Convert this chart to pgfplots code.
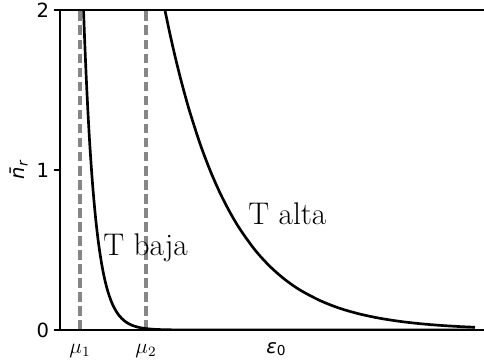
\documentclass[border=0pt]{standalone}
\usepackage{fontspec}
\usepackage{pgfplots}
\pgfplotsset{compat=1.18}
\usetikzlibrary{calc}
\newfontfamily\djv{DejaVu Sans}

% occupation number for a low and a high temperature
\pgfplotstableread{
e n
22.5 2.187
23 2.094
24 1.920
25 1.760
26 1.613
27 1.479
28 1.356
29 1.243
30 1.139
32 0.957
34 0.805
36 0.676
38 0.568
40 0.478
42 0.401
44 0.337
46 0.283
48 0.238
51 0.183
54 0.141
57 0.109
60 0.0839
64 0.0593
68 0.0418
72 0.0295
77 0.0191
82 0.0124
88 0.0074
95 0.0040
105 0.0017
120 0.00045
140 0.00008
170 0.000006
415 0
}\tbaja

\pgfplotstableread{
e n
103 2.059
105 1.997
110 1.849
115 1.712
120 1.585
125 1.468
130 1.359
140 1.165
150 0.999
160 0.857
170 0.735
180 0.630
195 0.500
210 0.397
225 0.315
240 0.250
260 0.184
280 0.135
300 0.0994
320 0.0731
340 0.0537
360 0.0395
380 0.0290
400 0.0213
415 0.0170
}\talta

\begin{document}
\begin{tikzpicture}
\begin{axis}[
  scale only axis,
  width=238.5pt, height=180pt,
  xmin=0, xmax=424, ymin=0, ymax=2,
  axis x line*=box, axis y line*=left,
  x axis line style={line width=0.9pt, -},
  y axis line style={line width=0.9pt, -},
  axis on top,
  clip mode=individual,
  xtick={20,86,216},
  xticklabels={{\fontsize{12}{14}\selectfont$\mu_1$}, {\fontsize{12}{14}\selectfont$\mu_2$},
    {\djv\fontsize{11}{13}\selectfont\itshape ε\upshape\raisebox{-1.4pt}{\fontsize{7.7}{8}\selectfont 0}}},
  xtick style={draw=none},
  xticklabel style={anchor=base, inner sep=0pt, yshift=-9.5pt},
  ytick={0,1,2},
  yticklabels={0,1,2},
  yticklabel style={font=\djv\fontsize{11}{13}\selectfont, inner sep=0pt, anchor=east, xshift=-2.5pt},
  ytick style={line width=0.9pt, black},
  tick align=outside,
  major tick length=3.5pt,
]
\addplot[gray!95, line width=1.7pt, dash pattern=on 5.4pt off 2.5pt] coordinates {(20,0) (20,2)};
\addplot[gray!95, line width=1.7pt, dash pattern=on 5.4pt off 2.5pt] coordinates {(86,0) (86,2)};
\addplot[black, line width=1.5pt, smooth] table[x=e, y=n] {\tbaja};
\addplot[black, line width=1.5pt, smooth] table[x=e, y=n] {\talta};
\node[anchor=base west, inner sep=0pt, font=\fontsize{17.6}{21}\selectfont] at (axis cs:43,0.4625) {T baja};
\node[anchor=base west, inner sep=0pt, font=\fontsize{17.6}{21}\selectfont] at (axis cs:188,0.66) {T alta};
\node[rotate=90, anchor=south, inner sep=0pt, font=\djv\fontsize{11}{13}\selectfont] at ($(rel axis cs:0,0.5)+(-18pt,0)$)
  {\itshape n̄\raisebox{-1.6pt}{\fontsize{7.7}{8}\selectfont r}};
\end{axis}
\pgfresetboundingbox
\path[use as bounding box] ($(current axis.south west)+(-33.75pt,-16.875pt)$) rectangle ($(current axis.north east)+(0,5.625pt)$);
\end{tikzpicture}
\end{document}
